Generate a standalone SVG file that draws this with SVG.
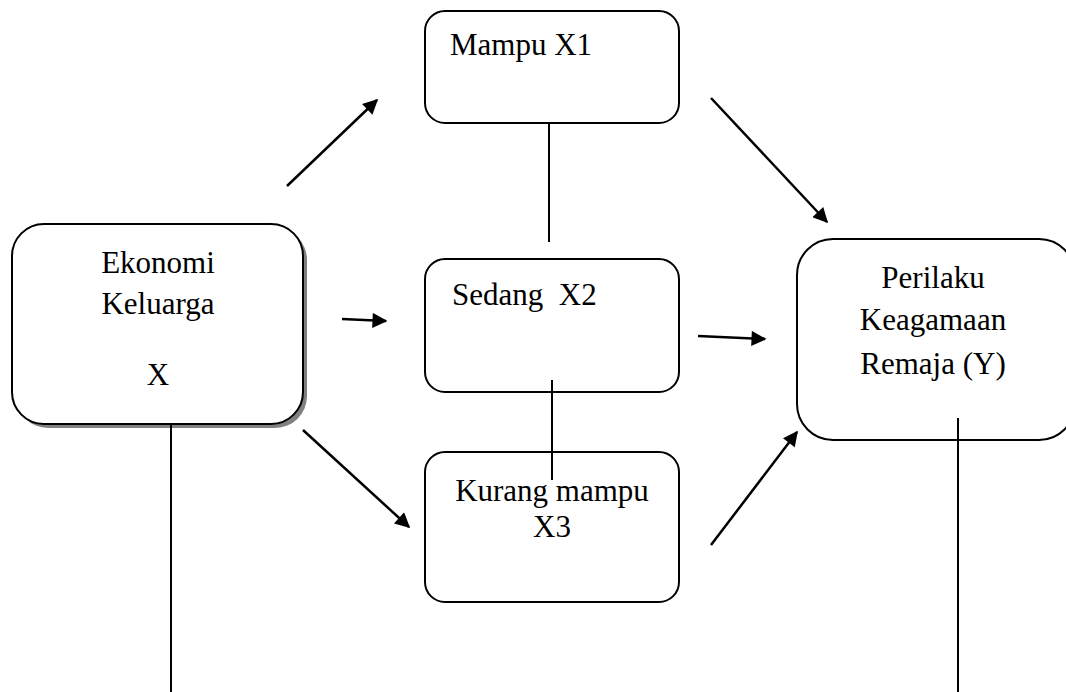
<svg xmlns="http://www.w3.org/2000/svg" width="1066" height="692" viewBox="0 0 1066 692">
<style>
.box{fill:#fff;stroke:#000;stroke-width:2}
.shadow{fill:#808080;stroke:none}
.t{font-family:"Liberation Serif","Times New Roman",serif;font-size:31px;fill:#000}
.c{text-anchor:middle}
.ln{stroke:#000;stroke-width:2;fill:none}
.ar{stroke:#000;stroke-width:2.5;fill:none;marker-end:url(#ah)}
</style>
<defs>
<marker id="ah" viewBox="0 0 10 10" refX="9" refY="5" markerWidth="7" markerHeight="6" markerUnits="strokeWidth" orient="auto">
<path d="M0,0 L10,5 L0,10 z" fill="#000"/>
</marker>
</defs>
<rect width="1066" height="692" fill="#fff"/>
<g id="ekonomi">
<rect class="shadow" x="16" y="228" width="291" height="200" rx="32"/>
<rect class="box" x="12" y="224" width="291" height="200" rx="32"/>
<text class="t c" x="158" y="273">Ekonomi</text>
<text class="t c" x="158" y="314">Keluarga</text>
<text class="t c" x="158" y="385">X</text>
</g>
<g id="mampu">
<rect class="box" x="425" y="11" width="254" height="112" rx="20"/>
<text class="t" x="450" y="55">Mampu X1</text>
</g>
<g id="sedang">
<rect class="box" x="425" y="259" width="254" height="133" rx="20"/>
<text class="t" x="452" y="305" xml:space="preserve">Sedang  X2</text>
</g>
<g id="kurang">
<rect class="box" x="425" y="452" width="254" height="150" rx="20"/>
<text class="t c" x="552" y="501">Kurang mampu</text>
<text class="t c" x="552" y="537">X3</text>
</g>
<g id="perilaku">
<rect class="box" x="797" y="239" width="278" height="201" rx="36"/>
<text class="t c" x="933" y="288">Perilaku</text>
<text class="t c" x="933" y="330">Keagamaan</text>
<text class="t c" x="933" y="374">Remaja (Y)</text>
</g>
<g id="connectors">
<line class="ln" x1="549" y1="123" x2="549" y2="242"/>
<line class="ln" x1="552" y1="380" x2="552" y2="480"/>
<line class="ln" x1="171" y1="425" x2="171" y2="692"/>
<line class="ln" x1="958" y1="418" x2="958" y2="692"/>
<line class="ar" x1="287" y1="186" x2="377" y2="100"/>
<line class="ar" x1="342" y1="319" x2="386" y2="321"/>
<line class="ar" x1="303" y1="430" x2="409" y2="527"/>
<line class="ar" x1="711" y1="98" x2="827" y2="222"/>
<line class="ar" x1="698" y1="336" x2="765" y2="339"/>
<line class="ar" x1="711" y1="545" x2="797" y2="432"/>
</g>
</svg>
